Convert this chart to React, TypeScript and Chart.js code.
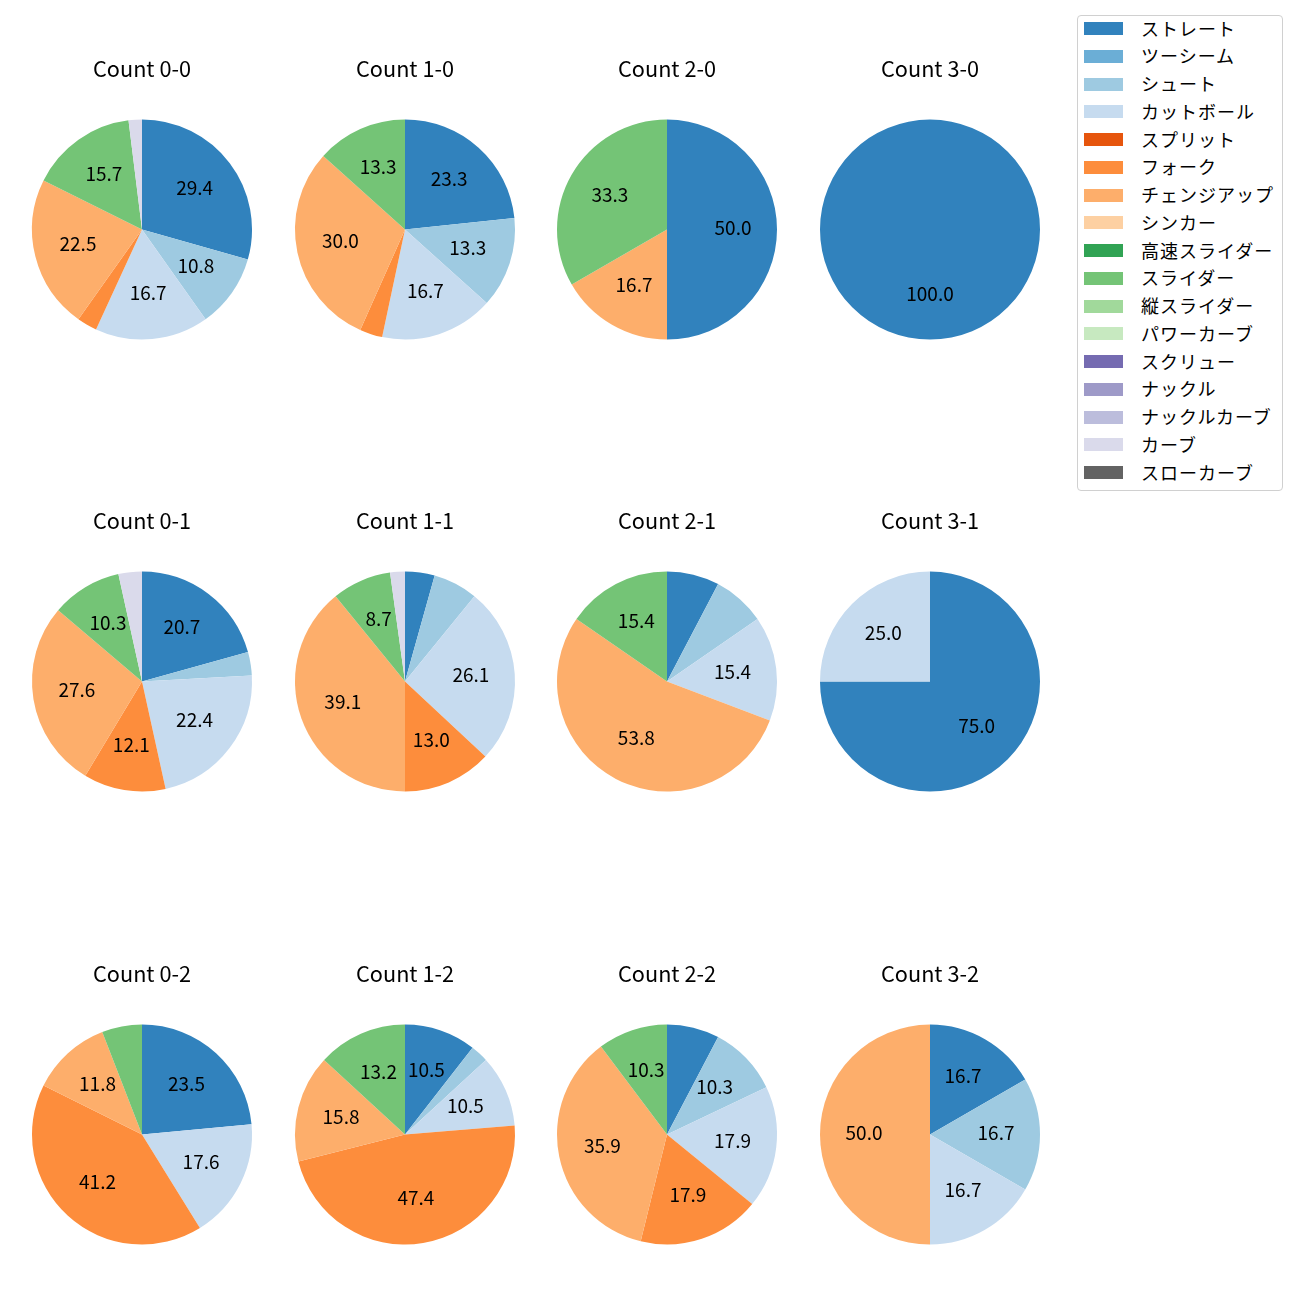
import React, { useEffect, useRef } from "react";
import { Chart, registerables } from "chart.js";
Chart.register(...registerables);

const FONT = '"Noto Sans CJK JP", "Noto Sans", sans-serif';

const pitchTypes = [
  "ストレート", "ツーシーム", "シュート", "カットボール", "スプリット", "フォーク",
  "チェンジアップ", "シンカー", "高速スライダー", "スライダー", "縦スライダー",
  "パワーカーブ", "スクリュー", "ナックル", "ナックルカーブ", "カーブ", "スローカーブ",
];
const pitchColors = [
  "#3182bd", "#6baed6", "#9ecae1", "#c6dbef", "#e6550d", "#fd8d3c",
  "#fdae6b", "#fdd0a2", "#31a354", "#74c476", "#a1d99b",
  "#c7e9c0", "#756bb1", "#9e9ac8", "#bcbddc", "#dadaeb", "#636363",
];

const countLabels = ["0-0", "1-0", "2-0", "3-0", "0-1", "1-1", "2-1", "3-1", "0-2", "1-2", "2-2", "3-2"];

// pitch counts per ball-strike count, in pitchTypes order
const c00 = [30, 0, 11, 17, 0, 3, 23, 0, 0, 16, 0, 0, 0, 0, 0, 2, 0];
const c10 = [7, 0, 4, 5, 0, 1, 9, 0, 0, 4, 0, 0, 0, 0, 0, 0, 0];
const c20 = [3, 0, 0, 0, 0, 0, 1, 0, 0, 2, 0, 0, 0, 0, 0, 0, 0];
const c30 = [1, 0, 0, 0, 0, 0, 0, 0, 0, 0, 0, 0, 0, 0, 0, 0, 0];
const c01 = [12, 0, 2, 13, 0, 7, 16, 0, 0, 6, 0, 0, 0, 0, 0, 2, 0];
const c11 = [2, 0, 3, 12, 0, 6, 18, 0, 0, 4, 0, 0, 0, 0, 0, 1, 0];
const c21 = [1, 0, 1, 2, 0, 0, 7, 0, 0, 2, 0, 0, 0, 0, 0, 0, 0];
const c31 = [3, 0, 0, 1, 0, 0, 0, 0, 0, 0, 0, 0, 0, 0, 0, 0, 0];
const c02 = [4, 0, 0, 3, 0, 7, 2, 0, 0, 1, 0, 0, 0, 0, 0, 0, 0];
const c12 = [4, 0, 1, 4, 0, 18, 6, 0, 0, 5, 0, 0, 0, 0, 0, 0, 0];
const c22 = [3, 0, 4, 7, 0, 7, 14, 0, 0, 4, 0, 0, 0, 0, 0, 0, 0];
const c32 = [1, 0, 1, 1, 0, 0, 3, 0, 0, 0, 0, 0, 0, 0, 0, 0, 0];
const countData = [c00, c10, c20, c30, c01, c11, c21, c31, c02, c12, c22, c32];

const LABEL_MIN_PCT = 8;

const colX = [141.7, 404.5, 667.3, 930.2];
const rowY = [229.5, 681.8, 1134];

function PieChart({ label, values, cx, cy }: { label: string; values: number[]; cx: number; cy: number }) {
  const ref = useRef<HTMLCanvasElement>(null);
  useEffect(() => {
    const total = values.reduce((a, b) => a + b, 0);
    const pctPlugin = {
      id: "pctLabels",
      afterDatasetsDraw(chart: any) {
        const ctx = chart.ctx;
        const meta = chart.getDatasetMeta(0);
        ctx.save();
        ctx.font = `19px ${FONT}`;
        ctx.fillStyle = "#000";
        ctx.textAlign = "center";
        ctx.textBaseline = "middle";
        meta.data.forEach((arc: any, i: number) => {
          const pct = (values[i] / total) * 100;
          if (pct < LABEL_MIN_PCT) return;
          const p = arc.getProps(["x", "y", "startAngle", "endAngle", "outerRadius"], true);
          const mid = (p.startAngle + p.endAngle) / 2;
          const r = p.outerRadius * 0.6;
          ctx.fillText(pct.toFixed(1), p.x + Math.cos(mid) * r, p.y + Math.sin(mid) * r - 2);
        });
        ctx.restore();
      },
    };
    const chart = new Chart(ref.current as HTMLCanvasElement, {
      type: "pie",
      data: {
        labels: pitchTypes,
        datasets: [{ data: values, backgroundColor: pitchColors, borderWidth: 0, hoverOffset: 0 }],
      },
      options: {
        responsive: false,
        animation: false,
        events: [],
        layout: { padding: { left: 10, right: 10, top: 0, bottom: 0 } },
        plugins: {
          legend: { display: false },
          tooltip: { enabled: false },
          title: {
            display: true,
            text: `Count ${label}`,
            color: "#000",
            font: { size: 21.7, family: FONT, weight: "normal", lineHeight: 1.2 },
            padding: 0,
          },
        },
      } as any,
      plugins: [pctPlugin],
    });
    return () => chart.destroy();
  }, []);
  const top = Math.round(cy - 173.5);
  const left = Math.round(cx - 120);
  return <canvas ref={ref} width={240} height={321} style={{ position: "absolute", left, top, display: "block" }} />;
}

function Legend() {
  return (
    <div
      style={{
        position: "absolute",
        left: 1077,
        top: 15,
        width: 204,
        height: 474,
        border: "1px solid #d0d0d0",
        borderRadius: 4,
        background: "rgba(255,255,255,0.8)",
        fontFamily: FONT,
        fontSize: 18,
        color: "#000",
      }}
    >
      {pitchTypes.map((p, i) => (
        <div key={p} style={{ position: "absolute", left: 0, top: i * 27.75 - 1.5, height: 28, width: 204 }}>
          <div style={{ position: "absolute", left: 6, top: 14 - 6.5, width: 39, height: 13, background: pitchColors[i] }} />
          <div
            style={{
              position: "absolute",
              left: 63,
              top: -1,
              height: 28,
              lineHeight: "28px",
              whiteSpace: "nowrap",
              letterSpacing: "1px",
            }}
          >
            {p}
          </div>
        </div>
      ))}
    </div>
  );
}

export default function App() {
  return (
    <div style={{ position: "absolute", left: 0, top: 0, width: 1300, height: 1300, background: "#fff" }}>
      {countLabels.map((lab, i) => (
        <PieChart key={lab} label={lab} values={countData[i]} cx={colX[i % 4]} cy={rowY[Math.floor(i / 4)]} />
      ))}
      <Legend />
    </div>
  );
}
